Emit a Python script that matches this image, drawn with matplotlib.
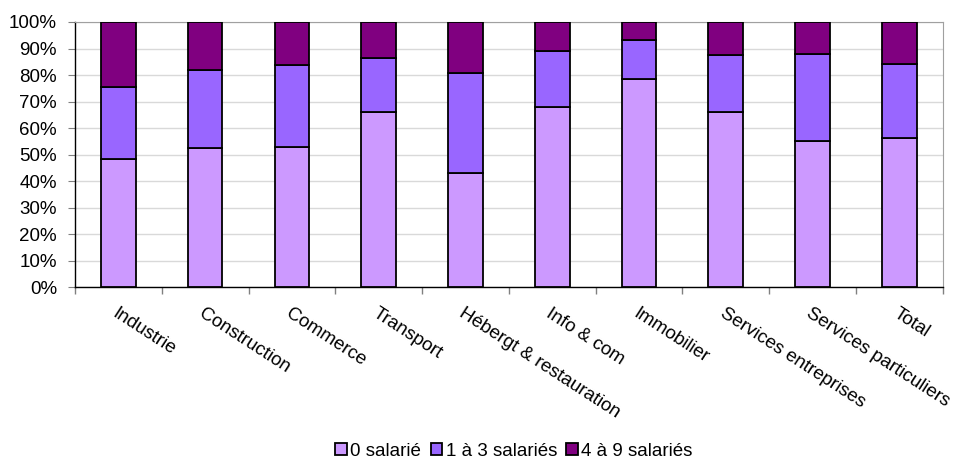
import matplotlib
matplotlib.use("Agg")
import matplotlib.pyplot as plt
import numpy as np
from matplotlib.ticker import FixedLocator, PercentFormatter

plt.rcParams['font.family'] = ['Liberation Sans', 'DejaVu Sans']

categories = ["Industrie", "Construction", "Commerce", "Transport",
              "Hébergt & restauration", "Info & com", "Immobilier",
              "Services entreprises", "Services particuliers", "Total"]
series_names = ["0 salarié", "1 à 3 salariés", "4 à 9 salariés"]
zero_sal = [48.2, 52.3, 52.9, 66.0, 43.1, 67.9, 78.6, 66.0, 55.1, 56.2]
un_trois = [27.4, 29.6, 31.0, 20.4, 37.8, 21.2, 14.7, 21.7, 32.8, 27.9]
quatre_neuf = [24.4, 18.1, 16.1, 13.6, 19.1, 10.9, 6.7, 12.3, 12.1, 15.9]
colors = ["#CC99FF", "#9966FF", "#800080"]

fig = plt.figure(figsize=(9.61, 4.58), dpi=100)
ax = fig.add_axes([0.078, 0.373, 0.903, 0.579])

x = np.arange(len(categories))
bottom = np.zeros(len(categories))
for name, vals, c in zip(series_names, [zero_sal, un_trois, quatre_neuf], colors):
    ax.bar(x, vals, width=0.40, bottom=bottom, color=c, edgecolor="black",
           linewidth=1.3, label=name, zorder=3)
    bottom += np.array(vals)

ax.set_xlim(-0.5, len(categories) - 0.5)
ax.set_ylim(0, 100)
ax.set_yticks(np.arange(0, 101, 10))
ax.yaxis.set_major_formatter(PercentFormatter(decimals=0))
ax.yaxis.grid(True, color="#D9D9D9", linewidth=1.0, zorder=0)
ax.set_axisbelow(True)

ax.set_xticks(x)
ax.set_xticklabels(categories, rotation=-33, ha="left", va="top",
                   rotation_mode="anchor", fontsize=13.5)
ax.tick_params(axis="x", which="major", length=0, pad=13)
ax.xaxis.set_minor_locator(FixedLocator(np.arange(-0.5, len(categories), 1.0)))
ax.tick_params(axis="x", which="minor", length=5, color="#808080", width=1)
ax.tick_params(axis="y", length=5, color="#808080", labelsize=13.5, pad=8)

for s in ["top", "right"]:
    ax.spines[s].set_color("#A0A0A0")
for s in ["left", "bottom"]:
    ax.spines[s].set_color("black")
    ax.spines[s].set_linewidth(1.0)

fig.legend(loc="center", bbox_to_anchor=(0.535, 0.015), ncol=3, frameon=False,
           fontsize=13.5, handlelength=0.6, handleheight=0.6, handletextpad=0.2,
           columnspacing=0.5, borderaxespad=0)

fig.savefig("out.png", dpi=100)
